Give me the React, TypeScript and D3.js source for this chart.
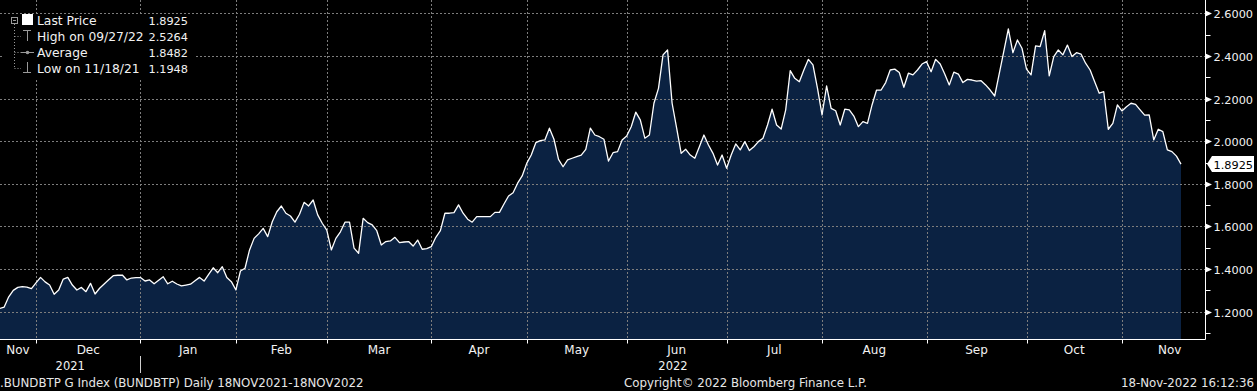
import React, { useEffect, useRef } from "react";
import * as d3 from "d3";

// ---------- DATA ----------
const startDate = new Date(2021, 10, 18);
const endDate = new Date(2022, 10, 18);

// Daily last price of BUNDBTP (one value per weekday, 18 Nov 2021 .. 18 Nov 2022)
const prices: number[] = [
  1.1948, 1.215, 1.222, 1.270, 1.300, 1.314, 1.318, 1.315, 1.308, 1.335,
  1.361, 1.340, 1.325, 1.282, 1.302, 1.353, 1.361, 1.325, 1.302, 1.314,
  1.294, 1.333, 1.283, 1.310, 1.330, 1.350, 1.369, 1.371, 1.372, 1.349,
  1.358, 1.360, 1.360, 1.344, 1.349, 1.331, 1.348, 1.364, 1.331, 1.343,
  1.330, 1.321, 1.325, 1.329, 1.345, 1.361, 1.344, 1.375, 1.406, 1.383,
  1.411, 1.360, 1.341, 1.302, 1.391, 1.404, 1.490, 1.544, 1.565, 1.591,
  1.552, 1.622, 1.669, 1.696, 1.662, 1.649, 1.620, 1.657, 1.713, 1.696,
  1.724, 1.654, 1.615, 1.583, 1.490, 1.544, 1.575, 1.620, 1.620, 1.498,
  1.474, 1.638, 1.618, 1.607, 1.580, 1.513, 1.529, 1.532, 1.549, 1.524,
  1.527, 1.529, 1.508, 1.536, 1.493, 1.496, 1.505, 1.549, 1.580, 1.662,
  1.662, 1.665, 1.701, 1.662, 1.634, 1.620, 1.646, 1.646, 1.646, 1.646,
  1.666, 1.666, 1.705, 1.743, 1.758, 1.803, 1.837, 1.896, 1.935, 1.993,
  2.003, 2.006, 2.061, 2.009, 1.915, 1.880, 1.912, 1.920, 1.928, 1.935,
  1.962, 2.061, 2.029, 2.021, 2.009, 1.907, 1.946, 1.951, 2.006, 2.024,
  2.068, 2.136, 2.100, 2.014, 2.029, 2.178, 2.248, 2.405, 2.428, 2.178,
  2.061, 1.943, 1.962, 1.935, 1.920, 1.974, 2.029, 1.982, 1.943, 1.888,
  1.935, 1.873, 1.935, 1.987, 1.959, 1.998, 1.956, 1.974, 1.998, 2.014,
  2.076, 2.150, 2.076, 2.057, 2.147, 2.331, 2.295, 2.279, 2.334, 2.384,
  2.358, 2.248, 2.123, 2.259, 2.154, 2.143, 2.076, 2.150, 2.147, 2.118,
  2.068, 2.092, 2.084, 2.170, 2.240, 2.240, 2.275, 2.334, 2.338, 2.322,
  2.253, 2.319, 2.311, 2.334, 2.362, 2.373, 2.326, 2.384, 2.362, 2.315,
  2.264, 2.324, 2.315, 2.275, 2.290, 2.287, 2.282, 2.284, 2.264, 2.240,
  2.212, 2.317, 2.421, 2.5264, 2.415, 2.475, 2.436, 2.338, 2.311, 2.447,
  2.444, 2.519, 2.306, 2.397, 2.428, 2.405, 2.451, 2.397, 2.415, 2.409,
  2.366, 2.334, 2.279, 2.225, 2.232, 2.056, 2.084, 2.170, 2.142, 2.162,
  2.178, 2.173, 2.147, 2.122, 2.123, 2.006, 2.056, 2.045, 1.959, 1.951,
  1.930, 1.8925,
];

const yMajorTicks: number[] = [1.2, 1.4, 1.6, 1.8, 2.0, 2.2, 2.4, 2.6];
const yMinorTicks: number[] = [1.1, 1.3, 1.5, 1.7, 1.9, 2.1, 2.3, 2.5];

const legendLabels: string[] = ["Last Price", "High on 09/27/22", "Average", "Low on 11/18/21"];
const legendValues: string[] = ["1.8925", "2.5264", "1.8482", "1.1948"];

const lastPriceLabel = "1.8925";
const footerLeft = ".BUNDBTP G Index (BUNDBTP)  Daily 18NOV2021-18NOV2022";
const footerMid = "Copyright\u00A9 2022 Bloomberg Finance L.P.";
const footerRight = "18-Nov-2022 16:12:36";

// ---------- LAYOUT ----------
const W = 1257;
const H = 391;
const plotRight = 1205.5;
const plotBottom = 339.5;
const FONT = "'DejaVu Sans', Verdana, sans-serif";

export default function App() {
  const ref = useRef<SVGSVGElement>(null);

  useEffect(() => {
    document.body.style.margin = "0";
    document.body.style.background = "#000";
    const svg = d3.select(ref.current);
    svg.selectAll("*").remove();

    const days = d3.timeDay
      .range(startDate, d3.timeDay.offset(endDate, 1))
      .filter((d) => d.getDay() !== 0 && d.getDay() !== 6);
    const n = Math.min(days.length, prices.length);
    const data = d3.range(n).map((i) => ({ i, date: days[i], v: prices[i] }));

    const x = d3.scaleLinear().domain([0, n - 1]).range([-4.9, 1181]);
    const y = d3.scaleLinear().domain([1.2, 2.6]).range([311.7, 13.3]);

    svg.append("rect").attr("width", W).attr("height", H).attr("fill", "#000");

    const defs = svg.append("defs");
    defs
      .append("clipPath")
      .attr("id", "plotClip")
      .append("rect")
      .attr("x", 0)
      .attr("y", 0)
      .attr("width", plotRight)
      .attr("height", plotBottom);

    // month boundaries
    const monthStarts: { idx: number; date: Date }[] = [];
    data.forEach((d, k) => {
      if (k > 0 && d.date.getMonth() !== data[k - 1].date.getMonth()) {
        monthStarts.push({ idx: d.i, date: d.date });
      }
    });

    // area
    const area = d3
      .area<any>()
      .x((d) => x(d.i))
      .y0(plotBottom)
      .y1((d) => y(d.v));
    svg
      .append("path")
      .datum(data)
      .attr("d", area as any)
      .attr("fill", "#0b2242")
      .attr("clip-path", "url(#plotClip)");

    // grid
    const grid = svg.append("g").attr("stroke", "#7d7d7d").attr("stroke-width", 1).attr("stroke-dasharray", "2,2");
    yMajorTicks.forEach((t) => {
      grid
        .append("line")
        .attr("x1", 0)
        .attr("x2", plotRight)
        .attr("y1", Math.round(y(t)) + 0.5)
        .attr("y2", Math.round(y(t)) + 0.5);
    });
    monthStarts.forEach((m) => {
      const xx = Math.round(x(m.idx)) + 0.5;
      grid.append("line").attr("x1", xx).attr("x2", xx).attr("y1", 0).attr("y2", plotBottom);
    });

    // line
    const line = d3
      .line<any>()
      .x((d) => x(d.i))
      .y((d) => y(d.v));
    svg
      .append("path")
      .datum(data)
      .attr("d", line as any)
      .attr("fill", "none")
      .attr("stroke", "#ffffff")
      .attr("stroke-width", 1.3)
      .attr("stroke-linejoin", "round")
      .attr("clip-path", "url(#plotClip)");

    // axes
    svg
      .append("line")
      .attr("x1", 0)
      .attr("x2", plotRight)
      .attr("y1", plotBottom)
      .attr("y2", plotBottom)
      .attr("stroke", "#fff");
    svg
      .append("line")
      .attr("x1", plotRight)
      .attr("x2", plotRight)
      .attr("y1", 0)
      .attr("y2", plotBottom)
      .attr("stroke", "#fff");

    // month ticks + labels
    const monthFmt = d3.timeFormat("%b");
    monthStarts.forEach((m) => {
      const xx = Math.round(x(m.idx)) + 0.5;
      svg
        .append("line")
        .attr("x1", xx)
        .attr("x2", xx)
        .attr("y1", plotBottom)
        .attr("y2", plotBottom + 4)
        .attr("stroke", "#fff");
    });
    const bounds = [0, ...monthStarts.map((m) => x(m.idx))];
    const lastStart = monthStarts[monthStarts.length - 1];
    bounds.push(x(lastStart.idx + 21));
    const labelDates = [data[0].date, ...monthStarts.map((m) => m.date)];
    labelDates.forEach((d, k) => {
      svg
        .append("text")
        .attr("x", (bounds[k] + bounds[k + 1]) / 2)
        .attr("y", 354)
        .attr("text-anchor", "middle")
        .attr("fill", "#f2f2f2")
        .attr("font-family", FONT)
        .attr("font-size", 12)
        .text(monthFmt(d));
    });

    // years
    const janStart = monthStarts.find((m) => m.date.getMonth() === 0)!;
    const xJan = Math.round(x(janStart.idx)) + 0.5;
    svg
      .append("text")
      .attr("x", (0 + xJan) / 2)
      .attr("y", 370)
      .attr("text-anchor", "middle")
      .attr("fill", "#f2f2f2")
      .attr("font-family", FONT)
      .attr("font-size", 11.5)
      .text(String(data[0].date.getFullYear()));
    svg
      .append("text")
      .attr("x", (xJan + plotRight) / 2)
      .attr("y", 370)
      .attr("text-anchor", "middle")
      .attr("fill", "#f2f2f2")
      .attr("font-family", FONT)
      .attr("font-size", 11.5)
      .text(String(janStart.date.getFullYear()));
    svg
      .append("line")
      .attr("x1", xJan)
      .attr("x2", xJan)
      .attr("y1", 356)
      .attr("y2", 373)
      .attr("stroke", "#cfcfcf");

    // right axis ticks
    const fmt = d3.format(".4f");
    yMajorTicks.forEach((t) => {
      const yy = Math.round(y(t)) + 0.5;
      svg
        .append("path")
        .attr("d", `M${plotRight},${yy - 3} L${plotRight + 6.5},${yy} L${plotRight},${yy + 3} Z`)
        .attr("fill", "#fff");
      svg
        .append("text")
        .attr("x", 1213.5)
        .attr("y", yy + 4.5)
        .attr("fill", "#f2f2f2")
        .attr("font-family", FONT)
        .attr("font-size", 11.3)
        .text(fmt(t));
    });
    yMinorTicks.forEach((t) => {
      const yy = Math.round(y(t)) + 0.5;
      svg
        .append("line")
        .attr("x1", plotRight)
        .attr("x2", plotRight + 5)
        .attr("y1", yy)
        .attr("y2", yy)
        .attr("stroke", "#fff");
    });

    // last price tag
    const ly = y(prices[n - 1]);
    svg
      .append("path")
      .attr("d", `M${plotRight + 1.5},${ly} L${plotRight + 6.5},${ly - 8} L1254,${ly - 8} L1254,${ly + 8} L${plotRight + 6.5},${ly + 8} Z`)
      .attr("fill", "#ffffff");
    svg
      .append("text")
      .attr("x", 1213.5)
      .attr("y", ly + 4.5)
      .attr("fill", "#000")
      .attr("font-family", FONT)
      .attr("font-size", 11.3)
      .text(lastPriceLabel);

    // legend
    const lg = svg.append("g");
    lg.append("rect").attr("x", 2).attr("y", 14).attr("width", 194).attr("height", 66).attr("fill", "#000");
    const rowY = [20.5, 36.5, 52.5, 68.5];
    const iconCol = "#9a9a9a";
    // tree lines
    lg.append("line").attr("x1", 14.5).attr("x2", 14.5).attr("y1", 24).attr("y2", 68.5)
      .attr("stroke", iconCol).attr("stroke-dasharray", "1,2");
    [36.5, 52.5, 68.5].forEach((ry) => {
      lg.append("line").attr("x1", 14.5).attr("x2", 21).attr("y1", ry).attr("y2", ry)
        .attr("stroke", iconCol).attr("stroke-dasharray", "1,2");
    });
    // minus box
    lg.append("rect").attr("x", 11.5).attr("y", 17.5).attr("width", 6).attr("height", 6)
      .attr("fill", "none").attr("stroke", iconCol);
    lg.append("line").attr("x1", 13).attr("x2", 16).attr("y1", 20.5).attr("y2", 20.5).attr("stroke", iconCol);
    // white square
    lg.append("rect").attr("x", 22).attr("y", 14).attr("width", 11).attr("height", 11).attr("fill", "#fff");
    // high icon (T)
    lg.append("line").attr("x1", 23).attr("x2", 31).attr("y1", 30.5).attr("y2", 30.5).attr("stroke", iconCol);
    lg.append("line").attr("x1", 27.5).attr("x2", 27.5).attr("y1", 30.5).attr("y2", 41).attr("stroke", iconCol);
    // average icon
    lg.append("line").attr("x1", 21).attr("x2", 34).attr("y1", 52.5).attr("y2", 52.5).attr("stroke", iconCol);
    lg.append("circle").attr("cx", 27.5).attr("cy", 52.5).attr("r", 1.8).attr("fill", iconCol);
    // low icon (inverted T)
    lg.append("line").attr("x1", 27.5).attr("x2", 27.5).attr("y1", 62).attr("y2", 72.5).attr("stroke", iconCol);
    lg.append("line").attr("x1", 23).attr("x2", 31).attr("y1", 72.5).attr("y2", 72.5).attr("stroke", iconCol);

    legendLabels.forEach((lab, k) => {
      lg.append("text")
        .attr("x", 37)
        .attr("y", rowY[k] + 4.5)
        .attr("fill", "#f2f2f2")
        .attr("font-family", FONT)
        .attr("font-size", 12.3)
        .text(lab);
      lg.append("text")
        .attr("x", 188)
        .attr("y", rowY[k] + 4.5)
        .attr("text-anchor", "end")
        .attr("fill", "#f2f2f2")
        .attr("font-family", FONT)
        .attr("font-size", 11.3)
        .text(legendValues[k]);
    });

    // footer
    const foot = (t: string, xx: number, anchor: string) =>
      svg
        .append("text")
        .attr("x", xx)
        .attr("y", 386.5)
        .attr("text-anchor", anchor)
        .attr("fill", "#e6e6e6")
        .attr("font-family", FONT)
        .attr("font-size", 11.8)
        .text(t);
    foot(footerLeft, 0, "start");
    foot(footerMid, 624, "start");
    foot(footerRight, 1254, "end");
  }, []);

  return <svg ref={ref} width={W} height={H} style={{ display: "block", background: "#000" }} />;
}
